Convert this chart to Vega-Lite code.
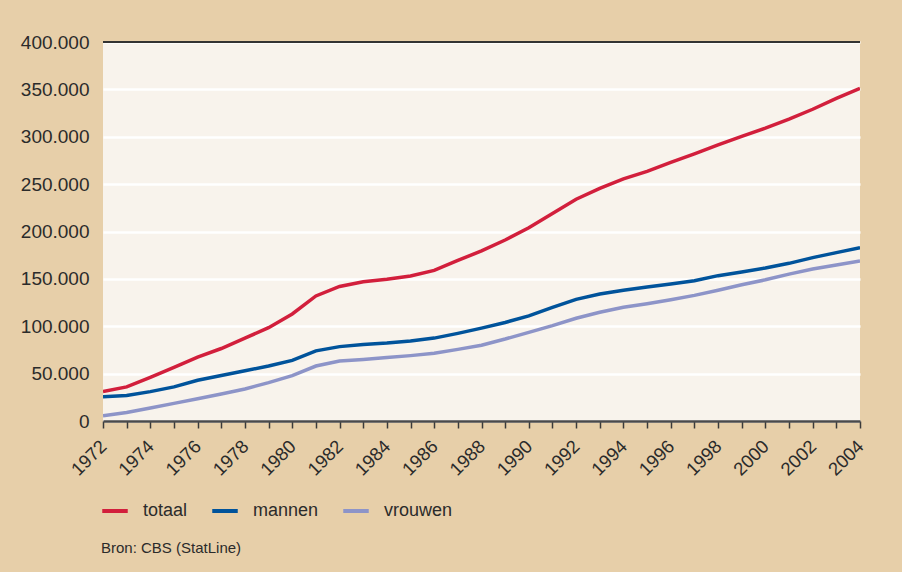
{
  "$schema": "https://vega.github.io/schema/vega-lite/v6.json",
  "autosize": "none",
  "width": 757,
  "height": 379,
  "padding": {"left": 103, "top": 42, "right": 42, "bottom": 151},
  "background": "#E7CFA9",
  "config": {
    "font": "Liberation Sans",
    "view": {"fill": "#F8F3EC", "stroke": null}
  },
  "title": {
    "text": "Bron: CBS (StatLine)",
    "orient": "bottom",
    "anchor": "start",
    "frame": "group",
    "fontSize": 15,
    "fontWeight": "normal",
    "color": "#2b2b2b",
    "offset": 21,
    "dx": -2
  },
  "data": {
    "values": [
      {"jaar": 1972, "reeks": "totaal", "aantal": 31000},
      {"jaar": 1973, "reeks": "totaal", "aantal": 36000},
      {"jaar": 1974, "reeks": "totaal", "aantal": 46000},
      {"jaar": 1975, "reeks": "totaal", "aantal": 56500},
      {"jaar": 1976, "reeks": "totaal", "aantal": 67500},
      {"jaar": 1977, "reeks": "totaal", "aantal": 76500},
      {"jaar": 1978, "reeks": "totaal", "aantal": 87500},
      {"jaar": 1979, "reeks": "totaal", "aantal": 98500},
      {"jaar": 1980, "reeks": "totaal", "aantal": 113000},
      {"jaar": 1981, "reeks": "totaal", "aantal": 132000},
      {"jaar": 1982, "reeks": "totaal", "aantal": 142000},
      {"jaar": 1983, "reeks": "totaal", "aantal": 147000},
      {"jaar": 1984, "reeks": "totaal", "aantal": 149500},
      {"jaar": 1985, "reeks": "totaal", "aantal": 153000},
      {"jaar": 1986, "reeks": "totaal", "aantal": 159000},
      {"jaar": 1987, "reeks": "totaal", "aantal": 169500},
      {"jaar": 1988, "reeks": "totaal", "aantal": 179500},
      {"jaar": 1989, "reeks": "totaal", "aantal": 191000},
      {"jaar": 1990, "reeks": "totaal", "aantal": 204000},
      {"jaar": 1991, "reeks": "totaal", "aantal": 219000},
      {"jaar": 1992, "reeks": "totaal", "aantal": 234000},
      {"jaar": 1993, "reeks": "totaal", "aantal": 245500},
      {"jaar": 1994, "reeks": "totaal", "aantal": 255500},
      {"jaar": 1995, "reeks": "totaal", "aantal": 263500},
      {"jaar": 1996, "reeks": "totaal", "aantal": 273000},
      {"jaar": 1997, "reeks": "totaal", "aantal": 282000},
      {"jaar": 1998, "reeks": "totaal", "aantal": 291500},
      {"jaar": 1999, "reeks": "totaal", "aantal": 300500},
      {"jaar": 2000, "reeks": "totaal", "aantal": 309000},
      {"jaar": 2001, "reeks": "totaal", "aantal": 318500},
      {"jaar": 2002, "reeks": "totaal", "aantal": 329000},
      {"jaar": 2003, "reeks": "totaal", "aantal": 340500},
      {"jaar": 2004, "reeks": "totaal", "aantal": 351000},
      {"jaar": 1972, "reeks": "mannen", "aantal": 25700},
      {"jaar": 1973, "reeks": "mannen", "aantal": 27000},
      {"jaar": 1974, "reeks": "mannen", "aantal": 31000},
      {"jaar": 1975, "reeks": "mannen", "aantal": 36000},
      {"jaar": 1976, "reeks": "mannen", "aantal": 43000},
      {"jaar": 1977, "reeks": "mannen", "aantal": 48000},
      {"jaar": 1978, "reeks": "mannen", "aantal": 53000},
      {"jaar": 1979, "reeks": "mannen", "aantal": 58000},
      {"jaar": 1980, "reeks": "mannen", "aantal": 64000},
      {"jaar": 1981, "reeks": "mannen", "aantal": 74000},
      {"jaar": 1982, "reeks": "mannen", "aantal": 78500},
      {"jaar": 1983, "reeks": "mannen", "aantal": 80800},
      {"jaar": 1984, "reeks": "mannen", "aantal": 82300},
      {"jaar": 1985, "reeks": "mannen", "aantal": 84400},
      {"jaar": 1986, "reeks": "mannen", "aantal": 87500},
      {"jaar": 1987, "reeks": "mannen", "aantal": 92500},
      {"jaar": 1988, "reeks": "mannen", "aantal": 98000},
      {"jaar": 1989, "reeks": "mannen", "aantal": 104000},
      {"jaar": 1990, "reeks": "mannen", "aantal": 111000},
      {"jaar": 1991, "reeks": "mannen", "aantal": 120000},
      {"jaar": 1992, "reeks": "mannen", "aantal": 128400},
      {"jaar": 1993, "reeks": "mannen", "aantal": 134000},
      {"jaar": 1994, "reeks": "mannen", "aantal": 138000},
      {"jaar": 1995, "reeks": "mannen", "aantal": 141400},
      {"jaar": 1996, "reeks": "mannen", "aantal": 144600},
      {"jaar": 1997, "reeks": "mannen", "aantal": 148000},
      {"jaar": 1998, "reeks": "mannen", "aantal": 153400},
      {"jaar": 1999, "reeks": "mannen", "aantal": 157300},
      {"jaar": 2000, "reeks": "mannen", "aantal": 161500},
      {"jaar": 2001, "reeks": "mannen", "aantal": 166400},
      {"jaar": 2002, "reeks": "mannen", "aantal": 172400},
      {"jaar": 2003, "reeks": "mannen", "aantal": 177700},
      {"jaar": 2004, "reeks": "mannen", "aantal": 183000},
      {"jaar": 1972, "reeks": "vrouwen", "aantal": 5600},
      {"jaar": 1973, "reeks": "vrouwen", "aantal": 9000},
      {"jaar": 1974, "reeks": "vrouwen", "aantal": 13700},
      {"jaar": 1975, "reeks": "vrouwen", "aantal": 18600},
      {"jaar": 1976, "reeks": "vrouwen", "aantal": 23500},
      {"jaar": 1977, "reeks": "vrouwen", "aantal": 28500},
      {"jaar": 1978, "reeks": "vrouwen", "aantal": 33800},
      {"jaar": 1979, "reeks": "vrouwen", "aantal": 40500},
      {"jaar": 1980, "reeks": "vrouwen", "aantal": 47800},
      {"jaar": 1981, "reeks": "vrouwen", "aantal": 58000},
      {"jaar": 1982, "reeks": "vrouwen", "aantal": 63300},
      {"jaar": 1983, "reeks": "vrouwen", "aantal": 65000},
      {"jaar": 1984, "reeks": "vrouwen", "aantal": 67000},
      {"jaar": 1985, "reeks": "vrouwen", "aantal": 69000},
      {"jaar": 1986, "reeks": "vrouwen", "aantal": 71500},
      {"jaar": 1987, "reeks": "vrouwen", "aantal": 75600},
      {"jaar": 1988, "reeks": "vrouwen", "aantal": 80000},
      {"jaar": 1989, "reeks": "vrouwen", "aantal": 86500},
      {"jaar": 1990, "reeks": "vrouwen", "aantal": 93600},
      {"jaar": 1991, "reeks": "vrouwen", "aantal": 100600},
      {"jaar": 1992, "reeks": "vrouwen", "aantal": 108400},
      {"jaar": 1993, "reeks": "vrouwen", "aantal": 114700},
      {"jaar": 1994, "reeks": "vrouwen", "aantal": 120000},
      {"jaar": 1995, "reeks": "vrouwen", "aantal": 123800},
      {"jaar": 1996, "reeks": "vrouwen", "aantal": 128000},
      {"jaar": 1997, "reeks": "vrouwen", "aantal": 132600},
      {"jaar": 1998, "reeks": "vrouwen", "aantal": 138000},
      {"jaar": 1999, "reeks": "vrouwen", "aantal": 143800},
      {"jaar": 2000, "reeks": "vrouwen", "aantal": 149000},
      {"jaar": 2001, "reeks": "vrouwen", "aantal": 155000},
      {"jaar": 2002, "reeks": "vrouwen", "aantal": 160400},
      {"jaar": 2003, "reeks": "vrouwen", "aantal": 164600},
      {"jaar": 2004, "reeks": "vrouwen", "aantal": 168900}
    ]
  },
  "layer": [
    {
      "mark": {"type": "line", "strokeWidth": 3.5, "clip": true},
      "encoding": {
        "x": {
          "field": "jaar",
          "type": "quantitative",
          "scale": {"domain": [1972, 2004], "nice": false, "zero": false},
          "axis": {
            "title": null,
            "values": [1972,1973,1974,1975,1976,1977,1978,1979,1980,1981,1982,1983,1984,1985,1986,1987,1988,1989,1990,1991,1992,1993,1994,1995,1996,1997,1998,1999,2000,2001,2002,2003,2004],
            "labelExpr": "datum.value % 2 == 0 ? '' + datum.value : ''",
            "grid": false,
            "domainColor": "#4a4a4a",
            "domainWidth": 2.5,
            "tickColor": "#3a3a3a",
            "tickWidth": 1.5,
            "tickSize": 7,
            "labelAngle": -45,
            "labelAlign": "right",
            "labelBaseline": "middle",
            "labelPadding": 15,
            "labelFontSize": 18.5,
            "labelColor": "#2b2b2b",
            "labelOverlap": false,
            "labelBound": false,
            "labelFlush": false
          }
        },
        "y": {
          "field": "aantal",
          "type": "quantitative",
          "scale": {"domain": [0, 400000], "nice": false},
          "axis": {
            "title": null,
            "values": [0, 50000, 100000, 150000, 200000, 250000, 300000, 350000, 400000],
            "labelExpr": "replace(format(datum.value, ','), ',', '.')",
            "domain": false,
            "ticks": false,
            "grid": true,
            "gridColor": "#FFFFFF",
            "gridWidth": 2.5,
            "labelPadding": 14,
            "labelFontSize": 19,
            "labelColor": "#2b2b2b"
          }
        },
        "color": {
          "field": "reeks",
          "type": "nominal",
          "scale": {
            "domain": ["totaal", "mannen", "vrouwen"],
            "range": ["#D21F3C", "#00539B", "#8D94C8"]
          },
          "legend": {
            "title": null,
            "orient": "none",
            "direction": "horizontal",
            "legendX": -3,
            "legendY": 454,
            "symbolType": "stroke",
            "symbolSize": 650,
            "symbolStrokeWidth": 4,
            "labelFontSize": 18,
            "labelColor": "#2b2b2b",
            "labelOffset": 13,
            "columnPadding": 16
          }
        }
      }
    },
    {
      "mark": {"type": "rule", "color": "#333333", "strokeWidth": 2},
      "encoding": {"y": {"datum": 400000}}
    }
  ]
}
